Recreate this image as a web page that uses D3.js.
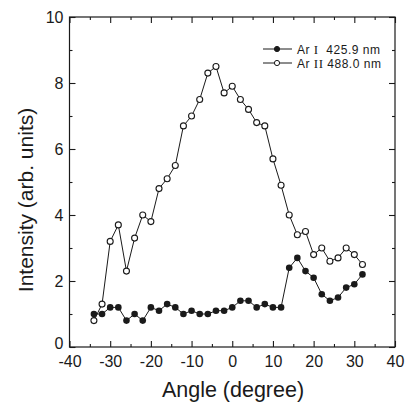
<!DOCTYPE html>
<html><head><meta charset="utf-8">
<script src="https://cdn.jsdelivr.net/npm/d3@7"></script>
<style>body{margin:0;background:#fff}svg{display:block}</style>
</head><body>
<script>
const angles = [-34,-32,-30,-28,-26,-24,-22,-20,-18,-16,-14,-12,-10,-8,-6,-4,-2,0,2,4,6,8,10,12,14,16,18,20,22,24,26,28,30,32];
const arI = [1.0,1.0,1.2,1.2,0.8,1.0,0.8,1.2,1.1,1.3,1.2,1.0,1.1,1.0,1.0,1.1,1.1,1.2,1.4,1.4,1.2,1.3,1.2,1.2,2.4,2.7,2.3,2.1,1.6,1.4,1.5,1.8,1.9,2.2];
const arII = [0.8,1.3,3.2,3.7,2.3,3.3,4.0,3.8,4.8,5.1,5.5,6.7,7.0,7.5,8.3,8.5,7.7,7.9,7.5,7.2,6.8,6.7,5.7,4.9,4.0,3.4,3.5,2.8,3.0,2.6,2.7,3.0,2.8,2.5];
const xTicks = [-40,-30,-20,-10,0,10,20,30,40];
const yTicks = [0,2,4,6,8,10];
const xTitle = "Angle (degree)";
const yTitle = "Intensity (arb. units)";

const W = 408, H = 404;
const L = 69.5, R = 395, T = 17, B = 347;
const ink = "#1a1a1a";
const FONT = "'Liberation Sans', Arial, sans-serif";
const svg = d3.select("body").append("svg").attr("width", W).attr("height", H)
  .style("font-family", FONT);

const x = d3.scaleLinear().domain([-40, 40]).range([L, R]);
const y = d3.scaleLinear().domain([0, 10]).range([B, T]);

// frame
svg.append("rect").attr("x", L).attr("y", T).attr("width", R - L).attr("height", B - T)
  .attr("fill", "none").attr("stroke", ink).attr("stroke-width", 1.2);

const xMinor = d3.range(-35, 40, 10);
const yMinor = d3.range(1, 10, 2);
const fmt = d => String(d);
function axisStyle(g){ g.select(".domain").remove(); g.selectAll("line").attr("stroke", ink).attr("stroke-width", 1.1); }
function textStyle(g){ g.selectAll("text").attr("font-size", 16).attr("fill", ink).attr("font-family", FONT); }

// bottom
svg.append("g").attr("transform", `translate(0,${B})`)
  .call(d3.axisBottom(x).tickValues(xTicks).tickSizeInner(-6).tickSizeOuter(0).tickPadding(9).tickFormat(fmt))
  .call(axisStyle).call(textStyle);
svg.append("g").attr("transform", `translate(0,${B})`)
  .call(d3.axisBottom(x).tickValues(xMinor).tickSizeInner(-3).tickSizeOuter(0).tickFormat(""))
  .call(axisStyle);
// top
svg.append("g").attr("transform", `translate(0,${T})`)
  .call(d3.axisTop(x).tickValues(xTicks).tickSizeInner(-6).tickSizeOuter(0).tickFormat(""))
  .call(axisStyle);
svg.append("g").attr("transform", `translate(0,${T})`)
  .call(d3.axisTop(x).tickValues(xMinor).tickSizeInner(-3).tickSizeOuter(0).tickFormat(""))
  .call(axisStyle);
// left
svg.append("g").attr("transform", `translate(${L},0)`)
  .call(d3.axisLeft(y).tickValues(yTicks).tickSizeInner(-6).tickSizeOuter(0).tickPadding(6).tickFormat(fmt))
  .call(axisStyle).call(textStyle)
  .call(g => g.selectAll(".tick").filter(d => d === 0).select("text").attr("y", -3.5));
svg.append("g").attr("transform", `translate(${L},0)`)
  .call(d3.axisLeft(y).tickValues(yMinor).tickSizeInner(-3).tickSizeOuter(0).tickFormat(""))
  .call(axisStyle);
// right
svg.append("g").attr("transform", `translate(${R},0)`)
  .call(d3.axisRight(y).tickValues(yTicks).tickSizeInner(-6).tickSizeOuter(0).tickFormat(""))
  .call(axisStyle);
svg.append("g").attr("transform", `translate(${R},0)`)
  .call(d3.axisRight(y).tickValues(yMinor).tickSizeInner(-3).tickSizeOuter(0).tickFormat(""))
  .call(axisStyle);

// titles
svg.append("text").attr("x", 233).attr("y", 397).attr("text-anchor", "middle")
  .attr("font-size", 21.5).attr("fill", ink).text(xTitle);
svg.append("text").attr("transform", "translate(33,200) rotate(-90)").attr("text-anchor", "middle")
  .attr("font-size", 21).attr("fill", ink).text(yTitle);

// series
const line = d3.line().x(d => x(d[0])).y(d => y(d[1]));
const s1 = angles.map((a, i) => [a, arI[i]]);
const s2 = angles.map((a, i) => [a, arII[i]]);
[s1, s2].forEach(s => svg.append("path").datum(s).attr("d", line)
  .attr("fill", "none").attr("stroke", ink).attr("stroke-width", 1));
svg.append("g").selectAll("circle").data(s2).join("circle")
  .attr("cx", d => x(d[0])).attr("cy", d => y(d[1])).attr("r", 3.0)
  .attr("fill", "#fff").attr("stroke", ink).attr("stroke-width", 1.1);
svg.append("g").selectAll("circle").data(s1).join("circle")
  .attr("cx", d => x(d[0])).attr("cy", d => y(d[1])).attr("r", 3.3)
  .attr("fill", ink);

// legend
const leg = [{n: "I", w: "  425.9 nm", filled: true}, {n: "II", w: " 488.0 nm", filled: false}];
leg.forEach((d, i) => {
  const yy = 49 + i * 14;
  svg.append("line").attr("x1", 263).attr("x2", 292).attr("y1", yy).attr("y2", yy)
    .attr("stroke", ink).attr("stroke-width", 1);
  svg.append("circle").attr("cx", 277).attr("cy", yy).attr("r", 2.6)
    .attr("fill", d.filled ? ink : "#fff").attr("stroke", ink).attr("stroke-width", 1);
  const t = svg.append("text").attr("x", 297).attr("y", yy + 4.5).attr("font-size", 12).attr("fill", ink)
    .attr("letter-spacing", 0.5)
    .attr("xml:space", "preserve").style("white-space", "pre");
  t.append("tspan").text("Ar ");
  t.append("tspan").attr("font-family", "'Liberation Serif', 'Times New Roman', serif").attr("font-size", 13).text(d.n);
  t.append("tspan").text(d.w);
});
</script>
</body></html>
